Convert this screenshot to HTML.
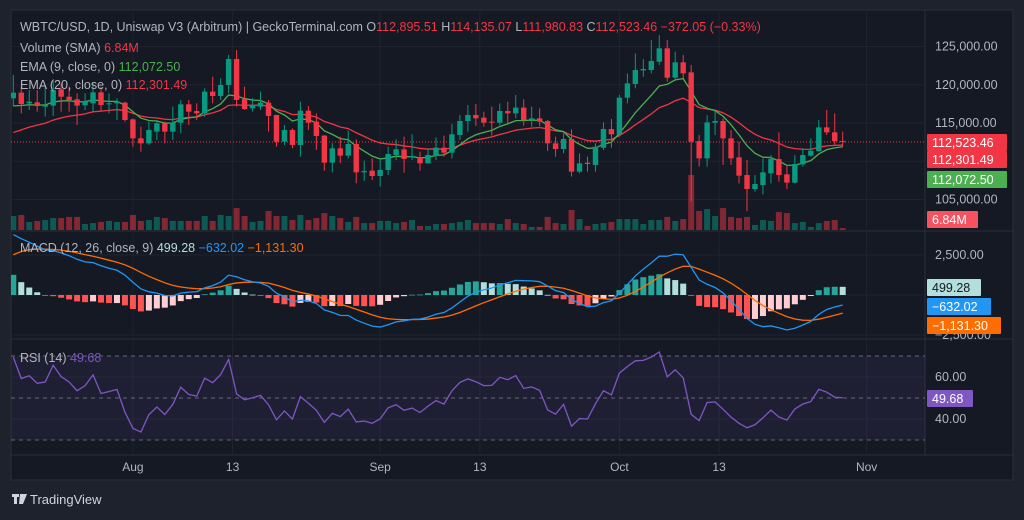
<!DOCTYPE html>
<html><head><meta charset="utf-8"><style>
html,body{margin:0;padding:0;background:#1e222d;width:1024px;height:520px;overflow:hidden;font-family:"Liberation Sans",sans-serif}
#wrap{position:relative;width:1024px;height:520px}
svg{position:absolute;left:0;top:0}
</style></head><body>
<div id="wrap">
<svg id="chart" width="1024" height="520"></svg>
</div>
<script>
const opens=[118.23,118.97,117.57,117.70,117.14,117.27,119.40,118.44,118.09,117.31,117.57,119.01,117.48,117.57,117.66,115.48,113.00,112.34,113.87,114.96,113.87,115.04,117.44,116.57,116.26,119.10,118.53,119.97,123.37,118.14,116.92,117.14,117.66,116.05,112.56,114.09,112.13,116.61,115.18,113.35,109.82,111.69,110.73,112.26,108.55,108.77,108.07,108.86,110.82,111.56,110.51,110.51,109.73,110.69,111.78,111.12,113.43,115.26,116.05,115.70,115.18,115.04,116.57,116.26,117.01,115.39,115.61,115.26,112.34,111.60,112.91,108.64,109.81,109.51,111.77,114.21,113.52,118.31,120.10,121.88,121.93,123.01,124.76,120.92,122.93,121.62,112.64,110.38,115.04,115.26,112.99,110.51,108.20,106.37,106.89,108.42,110.29,108.29,107.20,109.59,110.73,111.34,114.43,113.78,112.64];
const highs=[121.28,119.75,119.31,119.31,119.75,120.62,120.19,119.75,118.88,118.88,120.19,119.75,118.88,118.23,117.79,115.60,114.52,115.18,115.39,115.18,117.14,118.01,118.01,117.57,119.53,121.06,120.84,123.89,124.54,119.75,118.23,119.10,118.01,116.05,114.74,114.30,117.79,117.22,116.26,113.43,112.34,113.22,114.00,112.87,110.08,110.38,110.38,111.91,112.87,113.22,113.52,111.25,111.69,113.13,113.35,114.87,116.05,117.35,117.48,116.48,117.14,117.57,117.79,118.66,118.09,117.14,116.92,115.39,113.22,113.65,114.17,111.03,110.60,112.34,115.08,115.52,118.66,121.49,124.10,123.36,125.85,126.50,125.85,124.32,123.89,122.58,113.43,116.04,116.70,115.61,114.08,112.56,110.16,108.20,110.38,110.81,113.78,109.51,110.81,111.69,112.99,115.39,116.70,116.26,113.87];
const lows=[117.14,116.26,116.70,116.48,115.83,115.92,116.48,116.48,114.74,116.70,116.48,116.48,116.26,115.39,115.18,111.91,111.25,112.13,112.78,112.34,112.78,113.65,114.74,115.39,115.83,117.57,118.01,118.88,117.14,116.70,116.48,116.70,113.87,111.91,112.13,111.69,110.60,114.09,111.47,108.77,108.55,109.73,110.38,107.12,107.42,107.55,106.68,108.20,110.16,108.51,110.16,108.77,109.73,110.16,110.60,110.38,112.78,113.87,114.61,114.52,113.35,114.74,114.96,115.61,114.65,114.52,114.61,111.34,110.60,111.04,107.99,108.42,108.64,108.64,111.47,111.77,113.21,117.57,119.53,121.05,121.49,122.58,120.40,120.62,120.84,104.72,109.29,109.29,113.43,109.51,109.51,107.11,103.50,106.02,105.67,107.11,107.33,106.37,107.11,109.29,110.60,111.25,113.43,112.12,111.90];
const closes=[118.97,117.48,117.79,117.22,117.35,119.31,118.44,118.01,117.27,117.79,119.01,117.35,117.57,117.79,115.39,113.00,112.34,114.09,114.96,113.87,115.04,117.44,116.48,116.26,119.10,118.53,119.97,123.37,118.01,116.83,117.22,117.66,115.92,112.56,114.09,112.13,116.61,115.04,113.30,109.82,111.69,110.73,112.26,108.55,108.73,108.07,108.86,110.95,111.56,110.30,110.69,109.73,110.82,111.78,111.12,113.52,115.26,116.05,115.61,115.04,115.09,116.57,116.26,117.01,115.39,115.61,115.18,112.34,111.60,112.91,108.64,109.73,109.64,111.90,114.21,113.52,118.31,120.18,121.93,122.06,123.10,124.76,120.92,122.93,121.49,112.56,110.38,115.08,115.26,112.99,110.38,108.11,106.37,107.02,108.55,110.29,108.20,107.20,109.64,110.81,111.38,114.43,113.78,112.64,112.52];
const volumes=[8.7,9.3,5.0,5.6,6.2,7.4,7.4,8.1,8.1,3.7,4.3,5.0,5.6,5.0,5.0,9.3,5.6,6.2,8.1,7.4,5.6,5.6,5.6,5.6,8.7,5.6,9.3,8.7,13.6,8.7,5.0,5.6,11.8,8.7,8.7,6.2,9.3,6.2,7.4,10.5,8.7,7.4,5.0,8.1,4.3,4.3,5.6,5.6,4.3,5.0,6.2,2.5,2.5,3.7,3.7,4.3,5.0,6.2,4.3,4.3,4.3,3.7,6.8,4.3,3.7,1.9,1.9,8.1,4.3,3.7,12.4,6.8,2.5,3.7,4.3,5.0,6.8,6.8,6.8,3.7,6.2,6.2,8.1,5.6,6.8,34.1,11.8,13.0,8.7,13.6,8.1,7.4,8.1,3.1,6.2,5.6,11.2,10.5,4.3,5.0,1.9,4.3,5.6,6.2,1.2];
const tickLabels=["Aug","13","Sep","13","Oct","13","Nov"];
const tickIndex=[15,27.5,46,58.5,76,88.5,107];
const priceTicks=[125,120,115,110,105];
const macdTicks=[2500,0,-2500];
const rsiTicks=[70,60,50,40,30];
const emaSeeds=[116.8,113.2];
const macdSeeds=[116.9,113.0,2.2];
const rsiSeeds=[0.5,0.22];

const NS="http://www.w3.org/2000/svg";
const svg=document.getElementById('chart');
function el(tag,attrs,parent){const e=document.createElementNS(NS,tag);for(const k in attrs)e.setAttribute(k,attrs[k]);(parent||svg).appendChild(e);return e;}
const X0=13.3,DX=7.975,PR=925;
const xI=i=>X0+DX*i;
const yP=p=>123-(p-115)*7.65;
const yV=v=>230-v/0.62;
const yM=m=>295-m*16;
const yR=r=>398-(r-50)*2.1;
const UP="#089981",DN="#f23645";

let r=el('rect',{x:11,y:10,width:1002,height:470,fill:'#151924',stroke:'#2a2e39'});

const defs=el('defs',{});
[['cp',10,231],['cm',231,339],['cr',340,455]].forEach(c=>{const cp=el('clipPath',{id:c[0]},defs);el('rect',{x:11,y:c[1],width:PR-11,height:c[2]-c[1]},cp);});
el('line',{x1:11,y1:231,x2:1013,y2:231,stroke:'#2a2e39'});
el('line',{x1:11,y1:339,x2:1013,y2:339,stroke:'#2a2e39'});
el('line',{x1:11,y1:455,x2:1013,y2:455,stroke:'#2a2e39'});
el('line',{x1:PR,y1:10,x2:PR,y2:455,stroke:'#2a2e39'});
tickLabels.forEach((t,k)=>{const x=xI(tickIndex[k]);
 el('line',{x1:x,y1:10,x2:x,y2:455,stroke:'#1f2330'});
 const tx=el('text',{x:x,y:471,'text-anchor':'middle',fill:'#b2b5be','font-size':12});tx.textContent=t;
 });
priceTicks.forEach(p=>{el('line',{x1:11,y1:yP(p),x2:PR,y2:yP(p),stroke:'#1f2330'});
 if(p!==110){const t=el('text',{x:935,y:yP(p)+4,fill:'#b2b5be','font-size':12.5});t.textContent=(p*1000).toLocaleString('en-US',{minimumFractionDigits:2});
 }});
macdTicks.forEach(m=>{el('line',{x1:11,y1:yM(m/1000),x2:PR,y2:yM(m/1000),stroke:'#1f2330'});});
{const t=el('text',{x:935,y:yM(2.5)+4,fill:'#b2b5be','font-size':12.5});t.textContent='2,500.00';
 const t2=el('text',{x:935,y:yM(-2.5)+4,fill:'#b2b5be','font-size':12.5});t2.textContent='−2,500.00';}
el('rect',{x:11,y:yR(70),width:PR-11,height:yR(30)-yR(70),fill:'rgba(126,87,194,0.1)'});
rsiTicks.forEach(v=>{const d=(v===70||v===50||v===30);
 el('line',{x1:11,y1:yR(v),x2:PR,y2:yR(v),stroke:d?'#787b86':'#262a36','stroke-dasharray':d?'4 4':'', 'stroke-opacity':d?0.8:1});
 if(v===60||v===40){const t=el('text',{x:935,y:yR(v)+4,fill:'#b2b5be','font-size':12.5});t.textContent=v.toFixed(2);}});

const gp=el('g',{'clip-path':'url(#cp)'});
closes.forEach((c,i)=>{const up=c>=opens[i];const x=xI(i);
 const v=el('rect',{x:x-3,y:yV(volumes[i]),width:6,height:230-yV(volumes[i]),fill:up?'rgba(8,153,129,0.5)':'rgba(242,54,69,0.5)'},gp);
 });
el('line',{x1:11,y1:yP(closes[closes.length-1]),x2:PR,y2:yP(closes[closes.length-1]),stroke:DN,'stroke-dasharray':'1 2'},gp);
function ema(n,seed){const k=2/(n+1);let e=seed;return closes.map(c=>e=c*k+e*(1-k));}
const e9=ema(9,emaSeeds[0]),e20=ema(20,emaSeeds[1]);
[[e20,DN,'ema20-line'],[e9,'#4caf50','ema9-line']].forEach(s=>{const p=el('polyline',{points:s[0].map((v,i)=>xI(i)+','+yP(v)).join(' '),fill:'none',stroke:s[1],'stroke-width':1.3},gp);});
closes.forEach((c,i)=>{const up=c>=opens[i];const col=up?UP:DN;const x=xI(i);
 const w=el('line',{x1:x,y1:yP(highs[i]),x2:x,y2:yP(lows[i]),stroke:col,'stroke-width':1},gp);
 
 const t=Math.min(yP(c),yP(opens[i]));const h=Math.max(1,Math.abs(yP(c)-yP(opens[i])));
 const b=el('rect',{x:x-2.7,y:t,width:5.4,height:h,fill:col},gp);
 });

const gm=el('g',{'clip-path':'url(#cm)'});
let a12=macdSeeds[0],a26=macdSeeds[1],sg=macdSeeds[2];const macd=[],sig=[],hist=[];
closes.forEach(c=>{a12=c*2/13+a12*11/13;a26=c*2/27+a26*25/27;const m=a12-a26;sg=m*0.2+sg*0.8;macd.push(m);sig.push(sg);hist.push(m-sg);});
hist.forEach((h,i)=>{const prev=i?hist[i-1]:h;let col=h>=0?(h>=prev?'#26a69a':'#b2dfdb'):(h<prev?'#ff5252':'#ffcdd2');
 const y0=yM(0),y1=yM(h);const b=el('rect',{x:xI(i)-3,y:Math.min(y0,y1),width:6,height:Math.max(0.8,Math.abs(y1-y0)),fill:col},gm);
 });
[[sig,'#ff6d00','macd-signal-line'],[macd,'#2196f3','macd-line']].forEach(s=>{const p=el('polyline',{points:s[0].map((v,i)=>xI(i)+','+yM(v)).join(' '),fill:'none',stroke:s[1],'stroke-width':1.3},gm);});

const gr=el('g',{'clip-path':'url(#cr)'});
let ag=rsiSeeds[0],al=rsiSeeds[1];const rsi=[];
closes.forEach((c,i)=>{const d=i?c-closes[i-1]:0;ag=(ag*13+Math.max(d,0))/14;al=(al*13+Math.max(-d,0))/14;rsi.push(100-100/(1+ag/al));});
{const p=el('polyline',{points:rsi.map((v,i)=>xI(i)+','+yR(v)).join(' '),fill:'none',stroke:'#7e57c2','stroke-width':1.3},gr);}

function tag(y,w,bg,fg,txt,name){const g=el('g',{});
 el('rect',{x:927,y:y,width:w,height:17,fill:bg,rx:1},g);const t=el('text',{x:932,y:y+13,fill:fg,'font-size':12.5},g);t.textContent=txt;}
tag(134,80,'#f23645','#fff','112,523.46','last-price-tag');
tag(151,80,'#f23645','#fff','112,301.49','ema20-tag');
tag(171,80,'#4caf50','#fff','112,072.50','ema9-tag');
tag(211,51,'#f7525f','#fff','6.84M','volume-tag');
tag(279,54,'#b2dfdb','#131722','499.28','macd-hist-tag');
tag(298,64,'#2196f3','#fff','−632.02','macd-tag');
tag(317,74,'#ff6d00','#fff','−1,131.30','macd-signal-tag');
tag(390,46,'#7e57c2','#fff','49.68','rsi-tag');

function legend(x,y,parts,name){const t=el('text',{x:x,y:y,'font-size':12.5,fill:'#b2b5be'});
 parts.forEach(p=>{const s=el('tspan',{fill:p[1]},t);s.textContent=p[0];});}
legend(20,31,[['WBTC/USD, 1D, Uniswap V3 (Arbitrum) | GeckoTerminal.com  O','#b2b5be'],['112,895.51','#f23645'],['  H','#b2b5be'],['114,135.07','#f23645'],['  L','#b2b5be'],['111,980.83','#f23645'],['  C','#b2b5be'],['112,523.46','#f23645'],['  −372.05 (−0.33%)','#f23645']],'symbol-header');
legend(20,52,[['Volume (SMA)  ','#b2b5be'],['6.84M','#f23645']],'volume-legend');
legend(20,71,[['EMA (9, close, 0)  ','#b2b5be'],['112,072.50','#4caf50']],'ema9-legend');
legend(20,89,[['EMA (20, close, 0)  ','#b2b5be'],['112,301.49','#f23645']],'ema20-legend');
legend(20,252,[['MACD (12, 26, close, 9)  ','#b2b5be'],['499.28','#b2dfdb'],['  −632.02','#2196f3'],['  −1,131.30','#ff6d00']],'macd-legend');
legend(20,362,[['RSI (14)  ','#b2b5be'],['49.68','#7e57c2']],'rsi-legend');
const lg=el('g',{});
el('path',{d:'M12 494h7v3h-2v7h-3v-7h-2z M20 494h3l-2 10h-2z M23 494h4l-4 10h-2z',fill:'#d1d4dc'},lg);
const lt=el('text',{x:30,y:504,fill:'#d1d4dc','font-size':13},lg);lt.textContent='TradingView';
</script>
</body></html>
